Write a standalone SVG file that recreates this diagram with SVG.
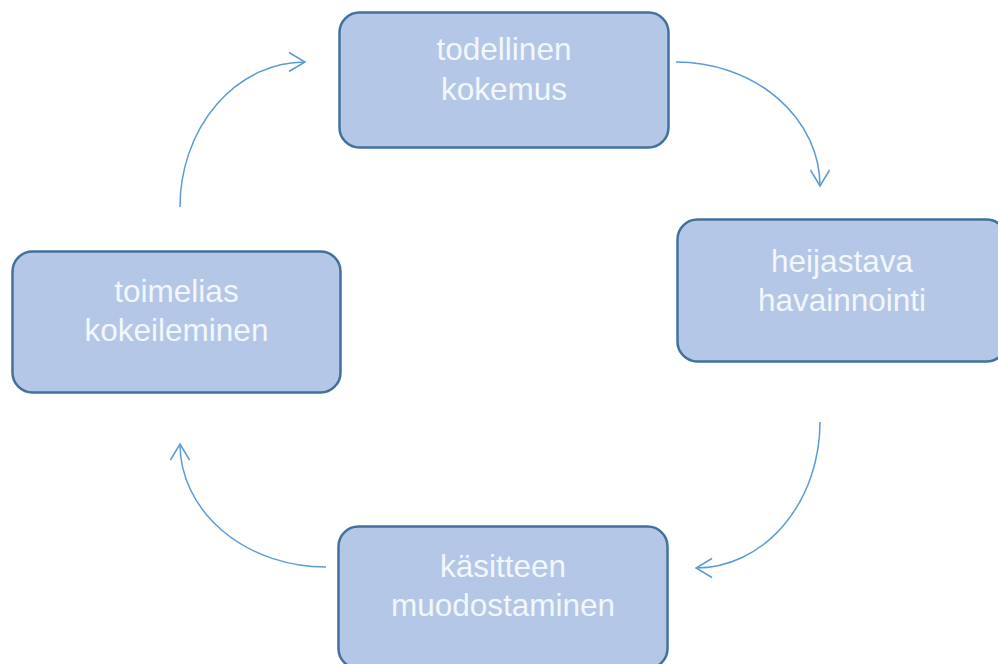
<svg xmlns="http://www.w3.org/2000/svg" width="998" height="664" viewBox="0 0 998 664">
<style>
.box{fill:#b4c7e7;stroke:#41719c;stroke-width:2.5}
.lbl{font-family:"Liberation Sans",Arial,sans-serif;font-size:31.5px;fill:#f3f6fb;text-anchor:middle}
.arc{fill:none;stroke:#5b9bd5;stroke-width:1.5;marker-end:url(#ah)}
</style>
<defs>
<marker id="ah" markerUnits="userSpaceOnUse" markerWidth="40" markerHeight="40" viewBox="-20 -20 40 40" refX="0" refY="0" orient="auto">
<path d="M -16 -9.5 L 0 0 L -16 9.5" fill="none" stroke="#5b9bd5" stroke-width="1.5"/>
</marker>
</defs>
<rect width="998" height="664" fill="#ffffff"/>
<g id="connectors">
<path class="arc" d="M 676 62 A 144 124 0 0 1 820 186"/>
<path class="arc" d="M 820 422 A 124 146 0 0 1 696 568"/>
<path class="arc" d="M 326 567 A 146 123 0 0 1 180 444"/>
<path class="arc" d="M 180 207 A 125 145 0 0 1 305 62"/>
</g>
<g id="node-top">
<rect class="box" x="339.5" y="12.5" width="329" height="135" rx="20"/>
<text class="lbl" x="504" y="60">todellinen</text>
<text class="lbl" x="504" y="100">kokemus</text>
</g>
<g id="node-right">
<rect class="box" x="677.5" y="219.5" width="329" height="142" rx="20"/>
<text class="lbl" x="842" y="272">heijastava</text>
<text class="lbl" x="842" y="311">havainnointi</text>
</g>
<g id="node-bottom">
<rect class="box" x="338.5" y="526.5" width="329" height="142" rx="20"/>
<text class="lbl" x="503" y="577">käsitteen</text>
<text class="lbl" x="503" y="616">muodostaminen</text>
</g>
<g id="node-left">
<rect class="box" x="12.5" y="251.5" width="328" height="141" rx="20"/>
<text class="lbl" x="176.5" y="302">toimelias</text>
<text class="lbl" x="176.5" y="341">kokeileminen</text>
</g>
</svg>
